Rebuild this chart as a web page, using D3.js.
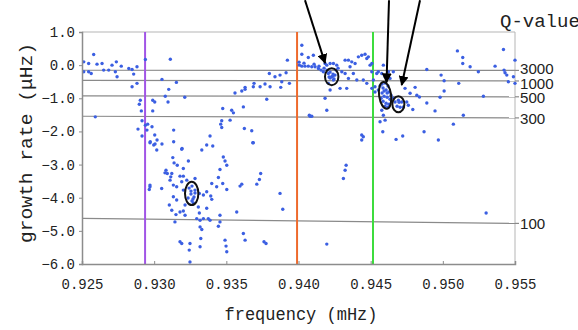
<!DOCTYPE html>
<html><head><meta charset="utf-8">
<script src="https://cdn.jsdelivr.net/npm/d3@7"></script>
<style>html,body{margin:0;padding:0;background:#fff;overflow:hidden}</style>
</head><body>
<svg id="c" width="578" height="330"></svg>
<script>
// ---- data ----
const xTicks = [0.925, 0.930, 0.935, 0.940, 0.945, 0.950, 0.955];
const xTickLabels = ["0.925","0.930","0.935","0.940","0.945","0.950","0.955"];
const yTicks = [1, 0, -1, -2, -3, -4, -5, -6];
const yTickLabels = ["1.0","0.0","\u22121.0","\u22122.0","\u22123.0","\u22124.0","\u22125.0","\u22126.0"];
const qValues = [3000, 1000, 500, 300, 100];
const qLabels = ["3000","1000","500","300","100"];
const markerFreqs = [0.92937, 0.93990, 0.94516];
const markerColors = ["#a155e6", "#ee6a2c", "#3ddc3d"];
const freq = [
0.92512,0.92546,0.92581,0.92604,0.92639,0.92650,0.92685,0.92708,0.92738,0.92731,0.92743,0.92512,0.92546,0.92564,0.92772,0.92824,0.92847,0.92858,0.92881,0.92881,
0.92847,0.92939,0.93112,0.93054,0.93154,0.93101,0.93077,0.93212,0.93096,0.92904,0.92897,0.92990,0.93004,0.92911,0.92990,0.92592,0.92916,0.92939,0.92955,0.92888,
0.92950,0.92985,0.92916,0.92973,0.92997,0.93004,0.93020,0.93054,0.93135,0.93135,0.93193,0.92971,0.93006,0.93018,0.93191,0.93364,0.93406,0.93330,0.93687,0.93129,
0.93138,0.93160,0.93237,0.93479,0.93491,0.93503,0.93202,0.93456,0.93075,0.93091,0.93115,0.93110,0.93179,0.93202,0.93191,0.93226,0.93283,0.93445,0.93399,0.93433,
0.93475,0.92971,0.93052,0.93156,0.93202,0.93313,0.93341,0.93364,0.93392,0.93399,0.93595,0.93607,0.93711,0.93729,0.93738,0.93503,0.93133,0.93156,0.93105,0.93122,
0.93151,0.93179,0.93202,0.93214,0.93271,0.93306,0.93313,0.93364,0.93295,0.93318,0.93341,0.93375,0.93387,0.93456,0.93456,0.93445,0.93572,0.92966,0.93318,0.93330,
0.93323,0.93248,0.93179,0.93191,0.93243,0.93318,0.93491,0.93498,0.93503,0.93618,0.93630,0.93761,0.93775,0.93248,0.92971,0.93133,0.93082,0.93122,0.93214,0.93144,
0.93872,0.93891,0.94196,0.94311,0.94323,0.94330,0.93387,0.93468,0.93461,0.93468,0.93526,0.93537,0.93549,0.93475,0.93618,0.93625,0.93676,0.93683,0.93560,0.93607,
0.93630,0.93630,0.93687,0.93692,0.93734,0.93768,0.93803,0.93780,0.93798,0.93837,0.93872,0.93914,0.93884,0.93877,0.93937,0.93923,0.94023,0.94023,0.94068,0.94006,
0.94023,0.94045,0.94068,0.94075,0.94103,0.94004,0.94092,0.94115,0.94138,0.94156,0.94172,0.94184,0.94196,0.94219,0.94242,0.94265,0.94207,0.94230,0.94242,0.94253,
0.94207,0.94219,0.94184,0.94196,0.94300,0.94323,0.94346,0.94369,0.94392,0.94415,0.94438,0.94461,0.94473,0.94484,0.94496,0.94357,0.94323,0.94346,0.94380,0.94404,
0.94288,0.94334,0.94449,0.94473,0.94080,0.94092,0.94438,0.94449,0.94438,0.94038,0.94108,0.94142,0.94177,0.94198,0.94219,0.94239,0.94260,0.94212,0.94246,0.94274,
0.94508,0.94508,0.94519,0.94530,0.94542,0.94553,0.94577,0.94588,0.94623,0.94657,0.94600,0.94634,0.94508,0.94530,0.94553,0.94579,0.94600,0.94620,0.94586,0.94607,
0.94627,0.94579,0.94593,0.94614,0.94634,0.94586,0.94607,0.94627,0.94600,0.94620,0.94572,0.94641,0.94593,0.94614,0.94565,0.94577,0.94588,0.94565,0.94600,0.94584,
0.94676,0.94722,0.94870,0.94969,0.94657,0.94669,0.94692,0.94715,0.94750,0.94761,0.94727,0.94738,0.94773,0.94808,0.94820,0.94838,0.94792,0.94889,0.94889,0.94946,
0.94981,0.94988,0.95009,0.95009,0.95101,0.95138,0.95138,0.95189,0.95246,0.95110,0.95142,0.95073,0.95281,0.95362,0.95420,0.95424,0.95431,0.95454,0.95489,0.95500,
0.95500,0.95443,0.95300,0.93242,0.93262,0.93283,0.93255,0.93276,0.93262,0.93235,0.93283,0.93255,0.93269,0.94219,0.94239,0.94683,0.94697,0.94704
];
const rate = [
0.10,0.05,0.32,0.03,0.05,-0.15,-0.15,0.00,0.10,-0.20,-0.35,-0.20,-0.20,-0.25,-0.03,-0.10,-0.13,-0.27,-0.05,-0.55,
-0.65,0.17,0.18,-0.43,-0.52,-0.73,-0.94,-0.97,-1.11,-1.06,-1.18,-1.06,-1.11,-1.38,-1.38,-1.56,-1.68,-1.81,-1.78,-1.93,
-1.96,-1.86,-2.14,-2.31,-2.41,-2.11,-2.26,-2.38,-1.96,-2.31,-2.51,-2.34,-2.38,-2.56,-2.54,-2.41,-2.44,-2.56,-2.34,-2.79,
-2.95,-3.02,-2.89,-2.77,-2.89,-3.02,-3.12,-3.15,-3.25,-3.27,-3.37,-3.47,-3.35,-3.35,-3.52,-3.47,-3.42,-3.39,-3.57,-3.67,
-3.57,-3.67,-3.72,-3.67,-3.77,-3.87,-3.92,-3.82,-3.95,-4.05,-3.65,-3.59,-3.59,-3.45,-3.27,-3.75,-3.97,-4.07,-4.22,-4.38,
-4.51,-4.43,-4.40,-4.22,-4.16,-4.28,-4.46,-4.32,-4.63,-4.68,-4.63,-4.63,-4.68,-4.53,-4.73,-4.86,-4.43,-3.75,-4.88,-4.96,
-5.23,-5.38,-5.33,-5.38,-5.58,-5.48,-5.28,-5.46,-5.63,-5.08,-5.28,-5.33,-5.38,-5.94,-3.62,-3.62,-3.17,-3.27,-4.53,-4.73,
-3.87,-4.35,-5.40,-3.42,-3.17,-3.02,-2.14,-1.68,-1.78,-1.88,-1.66,-1.36,-1.44,-1.31,-1.26,-1.91,-1.98,-2.34,-0.84,-0.78,
-0.73,-0.67,-0.65,-0.55,-0.65,-0.57,-0.65,-1.03,-0.25,-0.35,-0.30,-0.23,-0.50,-0.67,-0.55,0.15,0.60,0.33,0.23,0.00,
-0.03,-0.03,-0.03,-1.51,0.30,0.09,-0.05,-0.05,-0.10,-0.15,-0.20,0.05,0.00,0.05,0.05,0.00,-0.25,-0.35,-0.45,-0.30,
-0.55,-0.75,-1.00,-1.36,-0.20,0.15,0.15,0.10,0.05,0.25,0.30,0.33,0.20,0.25,0.00,-0.05,-0.25,-0.40,-0.25,-0.45,
-0.70,-0.70,-0.45,-0.55,-1.54,-1.54,-2.11,-2.16,-2.26,0.06,0.03,-0.03,-0.09,-0.15,-0.21,-0.27,-0.15,-0.36,-0.42,-0.09,
0.05,-0.20,-0.45,-0.65,-0.25,-0.20,-0.25,0.00,-0.20,-0.20,-0.35,-0.40,-0.70,-0.81,-0.75,-0.57,-0.54,-0.63,-0.69,-0.75,
-0.81,-0.84,-0.94,-0.97,-1.03,-1.09,-1.15,-1.18,-1.24,-1.27,-1.00,-0.91,-0.78,-0.84,-0.63,-1.36,-1.51,-1.71,-1.66,-2.01,
-2.24,-2.14,-2.01,-2.26,-1.00,-1.11,-1.06,-1.11,-1.11,-1.21,-1.26,-0.70,-0.85,-0.67,-0.91,-0.96,-1.34,-1.14,-0.13,-1.38,
-0.97,-0.30,-0.47,-0.78,0.43,0.23,0.05,-0.05,-0.20,-0.55,-1.51,-1.78,-0.94,-0.03,0.47,-0.15,-0.23,-0.50,-0.35,0.15,
-0.55,-0.30,-4.46,-3.71,-3.65,-3.77,-3.89,-3.98,-4.10,-4.01,-3.86,-3.80,-4.04,-0.39,-0.33,-1.24,-1.12,-1.27
];
// annotation ellipses (centre freq, centre rate) and arrows (from -> to)
const ringFreq = [0.94230, 0.94600, 0.94692, 0.93260];
const ringRate = [-0.35, -0.91, -1.18, -3.87];
const arrowFrom = [[0.94045, 1.96], [0.94627, 1.96], [0.94842, 1.96]];
const arrowTo = [[0.94184, 0.06], [0.94610, -0.52], [0.94715, -0.60]];

// ---- drawing ----
const svg = d3.select("#c");
const L = 82, R = 515, T = 32, B = 264;
const x = d3.scaleLinear().domain([0.925, 0.955]).range([L, R]);
const y = d3.scaleLinear().domain([-6, 1]).range([B, T]);
const mono = "'Liberation Mono','DejaVu Sans Mono',monospace";

// frame top/right
svg.append("line").attr("x1", L).attr("x2", R).attr("y1", T).attr("y2", T).attr("stroke", "#b5b5b5").attr("stroke-width", 1);
svg.append("line").attr("x1", R).attr("x2", R).attr("y1", T).attr("y2", B).attr("stroke", "#b5b5b5").attr("stroke-width", 1);

// Q-value lines: growth rate (μHz) = - f(μHz) / (2Q)
const qLine = d3.line().x(d => x(d[0])).y(d => y(d[1]));
const qShift = {3000: -1.5, 1000: 3, 500: 0.5, 300: 0.5, 100: 0};
qValues.forEach((q, i) => {
  const pts = [0.925, 0.955].map(f => [f, -f * 1000 / (2 * q)]);
  svg.append("path").attr("d", qLine(pts)).attr("fill", "none").attr("stroke", "#8a8a8a").attr("stroke-width", 1.2);
  const yr = y(pts[1][1]);
  svg.append("line").attr("x1", R).attr("x2", R + 4).attr("y1", yr).attr("y2", yr).attr("stroke", "#8a8a8a").attr("stroke-width", 1.2);
  svg.append("text").attr("x", R + 5).attr("y", yr + qShift[q]).attr("dy", "0.36em")
    .attr("font-family", "'Liberation Sans',Arial,sans-serif").attr("font-size", 14.5)
    .attr("textLength", qLabels[i].length * 8.4).attr("lengthAdjust", "spacingAndGlyphs")
    .attr("fill", "#222").text(qLabels[i]);
});

// vertical marker lines
markerFreqs.forEach((f, i) => {
  svg.append("line").attr("x1", x(f)).attr("x2", x(f)).attr("y1", T).attr("y2", B)
    .attr("stroke", markerColors[i]).attr("stroke-width", 2);
});

// points
svg.append("g").selectAll("circle").data(freq.map((f, i) => [f, rate[i]])).join("circle")
  .attr("cx", d => x(d[0])).attr("cy", d => y(d[1])).attr("r", 1.7).attr("fill", "#3b5fe2");

// axes
const yAxis = d3.axisLeft(y).tickValues(yTicks).tickSize(3).tickPadding(4).tickFormat((d, i) => yTickLabels[i]);
const gy = svg.append("g").attr("transform", `translate(${L},0)`).call(yAxis);
const xAxis = d3.axisBottom(x).tickValues(xTicks).tickSize(-3).tickPadding(15).tickFormat((d, i) => xTickLabels[i]);
const gx = svg.append("g").attr("transform", `translate(0,${B})`).call(xAxis);
[gx, gy].forEach(g => {
  g.select(".domain").attr("stroke", "#8c8c8c").attr("stroke-width", 1.5);
  g.selectAll(".tick line").attr("stroke", "#8c8c8c");
  g.selectAll("text").attr("font-family", mono).attr("font-size", 14).attr("fill", "#222");
});

// ellipses
const rings = [[6.7, 8.5, 0], [6, 13.5, -8], [6, 8, 0], [6.7, 11.7, 0]];
ringFreq.forEach((f, i) => {
  const cx = x(f), cy = y(ringRate[i]);
  svg.append("ellipse").attr("cx", 0).attr("cy", 0).attr("rx", rings[i][0]).attr("ry", rings[i][1])
    .attr("transform", `translate(${cx},${cy}) rotate(${rings[i][2]})`)
    .attr("fill", "none").attr("stroke", "#111").attr("stroke-width", 2);
});

// arrows
svg.append("defs").append("marker").attr("id", "ah").attr("viewBox", "0 0 10 10").attr("refX", 9).attr("refY", 5)
  .attr("markerWidth", 5).attr("markerHeight", 5).attr("orient", "auto").attr("markerUnits", "strokeWidth")
  .append("path").attr("d", "M0,0L10,5L0,10z").attr("fill", "#000");
arrowFrom.forEach((a, i) => {
  svg.append("line").attr("x1", x(a[0])).attr("y1", y(a[1])).attr("x2", x(arrowTo[i][0])).attr("y2", y(arrowTo[i][1]))
    .attr("stroke", "#000").attr("stroke-width", 2).attr("marker-end", "url(#ah)");
});

// titles
svg.append("text").attr("x", 301).attr("y", 320).attr("text-anchor", "middle").attr("font-family", mono)
  .attr("font-size", 18).attr("fill", "#222").attr("textLength", 153).attr("lengthAdjust", "spacingAndGlyphs")
  .text("frequency (mHz)");
svg.append("text").attr("transform", "translate(32,143) rotate(-90)").attr("text-anchor", "middle").attr("font-family", mono)
  .attr("font-size", 18).attr("fill", "#222").attr("textLength", 200).attr("lengthAdjust", "spacingAndGlyphs")
  .text("growth rate (\u03bcHz)");
svg.append("text").attr("x", 500).attr("y", 27).attr("font-family", mono).attr("font-size", 19).attr("fill", "#222").text("Q-value");
</script>
</body></html>
